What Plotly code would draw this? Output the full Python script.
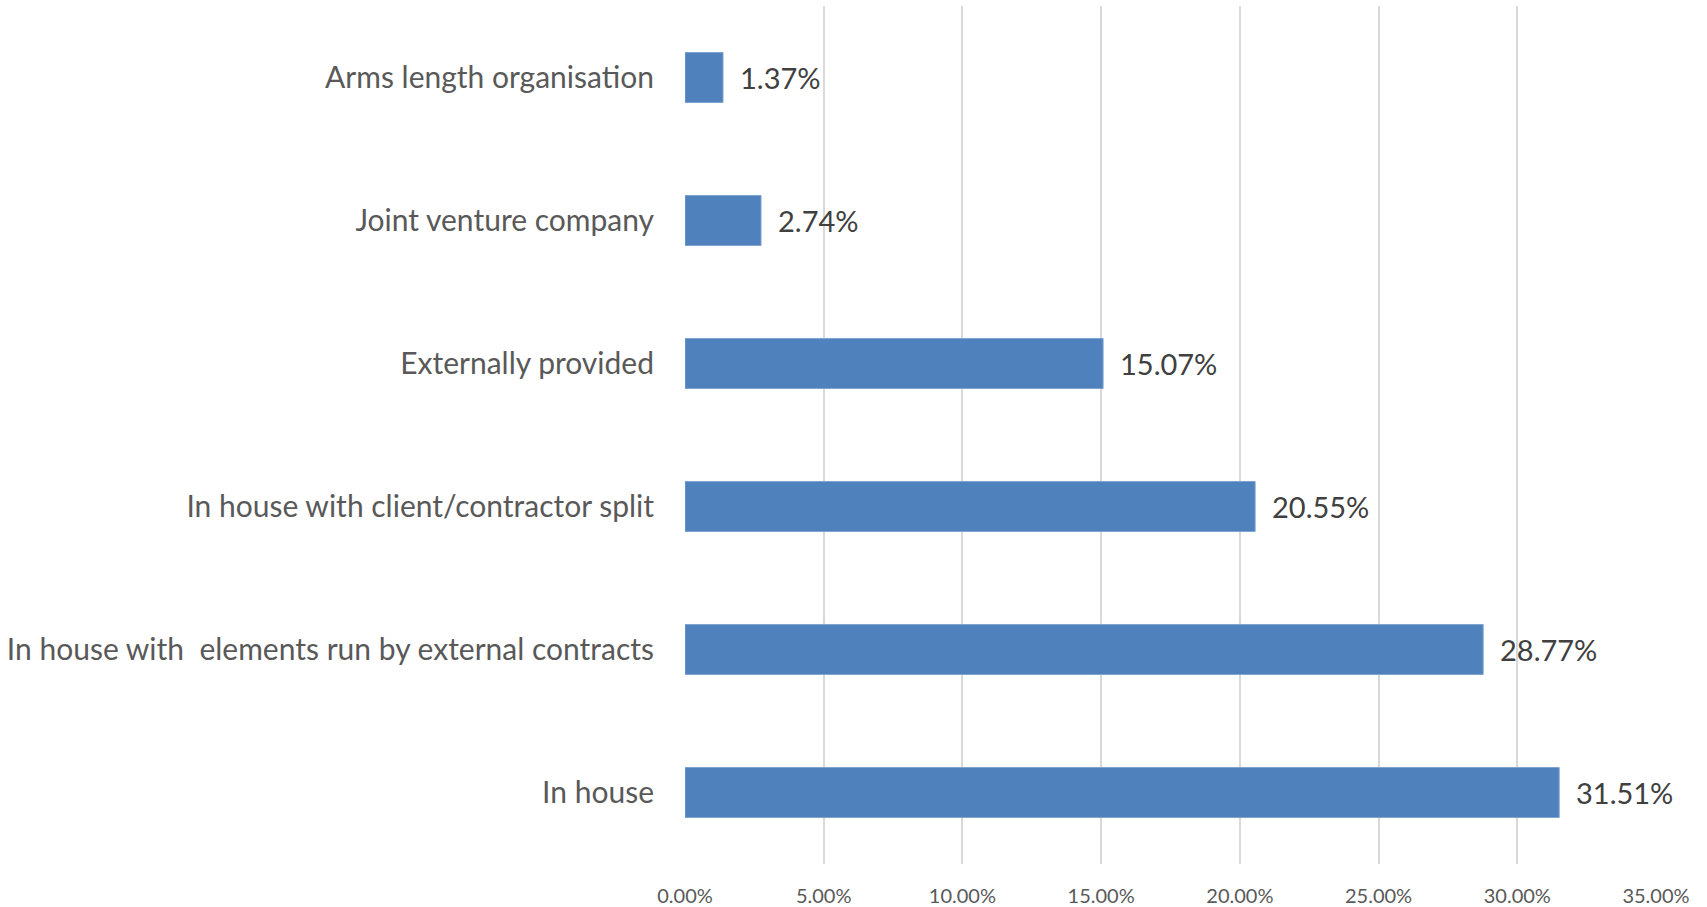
import plotly.graph_objects as go

categories = [
    "In house",
    "In house with  elements run by external contracts",
    "In house with client/contractor split",
    "Externally provided",
    "Joint venture company",
    "Arms length organisation",
]
values = [0.3151, 0.2877, 0.2055, 0.1507, 0.0274, 0.0137]
labels = ["31.51%", "28.77%", "20.55%", "15.07%", "2.74%", "1.37%"]
x_ticks = [0, 0.05, 0.10, 0.15, 0.20, 0.25, 0.30, 0.35]
x_tick_labels = ["0.00%", "5.00%", "10.00%", "15.00%", "20.00%", "25.00%", "30.00%", "35.00%"]

FONT = "Lato, 'Open Sans', sans-serif"

fig = go.Figure()
fig.add_trace(go.Bar(
    y=categories,
    x=values,
    orientation="h",
    marker=dict(color="#4F81BD", line=dict(color="#7FA3D0", width=1)),
    hoverinfo="skip",
))

for c, v, t in zip(categories, values, labels):
    fig.add_annotation(
        x=v, y=c, text=t, showarrow=False, xanchor="left", yanchor="middle",
        xshift=15, font=dict(family=FONT, size=29, color="#404040"),
    )

fig.update_layout(
    width=1707, height=907,
    paper_bgcolor="white", plot_bgcolor="white",
    margin=dict(l=685, r=51, t=6, b=43, autoexpand=False),
    bargap=0.65,
    showlegend=False,
    font=dict(family=FONT),
)
fig.update_xaxes(
    range=[0, 0.35],
    tickvals=x_ticks, ticktext=x_tick_labels,
    showgrid=True, gridcolor="#D9D9D9", gridwidth=1.5,
    zeroline=False, showline=False,
    ticks="outside", ticklen=14, tickcolor="rgba(0,0,0,0)",
    tickfont=dict(family=FONT, size=20, color="#595959"),
    automargin=False,
)
fig.update_yaxes(
    showgrid=False, zeroline=False, showline=False,
    ticks="outside", ticklen=24, tickcolor="rgba(0,0,0,0)",
    tickfont=dict(family=FONT, size=30, color="#595959"),
    automargin=False,
)
fig.write_html("out.html", config={"displayModeBar": False},
               post_script="document.body.style.margin='0';")
